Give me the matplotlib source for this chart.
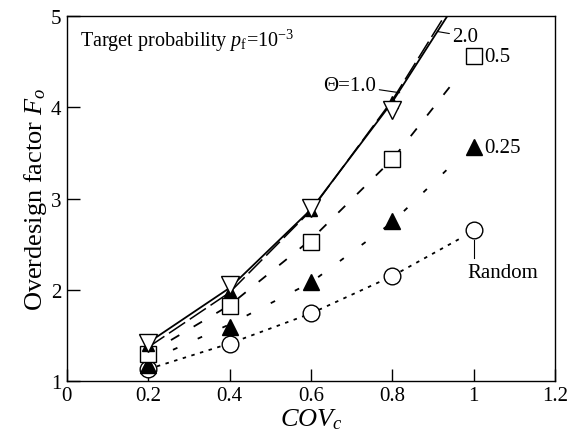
import matplotlib
matplotlib.use("Agg")
import matplotlib.pyplot as plt

# Fuente tipo Times para todo el grafico
plt.rcParams['font.family'] = ['Liberation Serif', 'DejaVu Serif']
plt.rcParams['mathtext.fontset'] = 'custom'
plt.rcParams['mathtext.rm'] = 'Liberation Serif'
plt.rcParams['mathtext.it'] = 'Liberation Serif:italic'
plt.rcParams['lines.scale_dashes'] = False

# Datos
cov = [0.2, 0.4, 0.6, 0.8, 1.0]
fo_theta1 = [1.42, 2.05, 2.90, 3.97]
fo_theta2 = [1.39, 1.99, 2.87, 4.06]
fo_theta05 = [1.30, 1.82, 2.52, 3.43, 4.56]
fo_theta025 = [1.17, 1.59, 2.09, 2.75, 3.57]
fo_random = [1.13, 1.40, 1.74, 2.15, 2.65]

# Curvas de ajuste (puntos leidos sobre cada curva)
fit_x_theta1 = [0.2, 0.4, 0.6, 0.8, 0.935]
fit_y_theta1 = [1.42, 2.02, 2.88, 4.06, 5.0]
fit_x_theta2 = [0.2, 0.4, 0.6, 0.8, 0.928]
fit_y_theta2 = [1.37, 1.97, 2.87, 4.08, 5.0]
fit_x_theta05 = [0.2, 0.4, 0.6, 0.8, 0.96]
fit_y_theta05 = [1.30, 1.83, 2.55, 3.43, 4.33]
fit_x_theta025 = [0.2, 0.4, 0.6, 0.8, 0.935]
fit_y_theta025 = [1.22, 1.62, 2.08, 2.74, 3.32]
fit_x_random = [0.2, 0.4, 0.6, 0.8, 0.97]
fit_y_random = [1.13, 1.41, 1.74, 2.15, 2.57]

x_ticks = [0, 0.2, 0.4, 0.6, 0.8, 1.0, 1.2]
x_tick_labels = ['0', '0.2', '0.4', '0.6', '0.8', '1', '1.2']
y_ticks = [1, 2, 3, 4, 5]

fig = plt.figure(figsize=(5.67, 4.39), dpi=100)
ax = fig.add_axes([0.118, 0.130, 0.861, 0.831])

# Curvas
ax.plot(fit_x_theta1, fit_y_theta1, color='black', lw=1.3, zorder=2)
ax.plot(fit_x_theta2, fit_y_theta2, color='black', lw=1.1,
        linestyle=(0, (14, 4)), zorder=2)
ax.plot(fit_x_theta05, fit_y_theta05, color='black', lw=1.3,
        linestyle=(0, (7, 12)), zorder=2)
ax.plot(fit_x_theta025, fit_y_theta025, color='black', lw=1.3,
        linestyle=(0, (3.5, 16)), zorder=2)
ax.plot(fit_x_random, fit_y_random, color='black', lw=1.3,
        linestyle=(0, (2.5, 4)), zorder=2)

# Marcadores
ax.plot(cov, fo_random, 'o', ms=12, mfc='white', mec='black', mew=1.0,
        linestyle='none', zorder=3)
ax.plot(cov, fo_theta025, '^', ms=12, mfc='black', mec='black',
        linestyle='none', zorder=4)
ax.plot(cov, fo_theta05, 's', ms=12, mfc='white', mec='black', mew=1.0,
        linestyle='none', zorder=4)
ax.plot(cov[:4], fo_theta2, '^', ms=9, mfc='black', mec='black',
        linestyle='none', zorder=5)
ax.plot(cov[:4], fo_theta1, 'v', ms=13, mfc='white', mec='black', mew=1.0,
        linestyle='none', zorder=6)

# Etiquetas dentro del grafico
ax.text(0.032, 4.74, r'Target probability $p_{\mathrm{f}}$=10$^{\mathrm{-3}}$',
        fontsize=14.5, ha='left', va='center')
ax.annotate('\u0398=1.0', xy=(0.818, 4.16), xytext=(0.696, 4.24),
            fontsize=15, ha='center', va='center',
            arrowprops=dict(arrowstyle='-', lw=0.8, color='black',
                            shrinkA=0, shrinkB=0))
ax.annotate('2.0', xy=(0.912, 4.83), xytext=(0.947, 4.78),
            fontsize=15, ha='left', va='center',
            arrowprops=dict(arrowstyle='-', lw=0.8, color='black',
                            shrinkA=0, shrinkB=0))
ax.text(1.025, 4.56, '0.5', fontsize=15, ha='left', va='center')
ax.text(1.025, 3.56, '0.25', fontsize=15, ha='left', va='center')
ax.plot([1.0, 1.0], [2.55, 2.35], color='black', lw=0.8)
ax.text(0.985, 2.19, 'Random', fontsize=15, ha='left', va='center')

# Ejes
ax.set_xlim(0, 1.2)
ax.set_ylim(1, 5)
ax.set_xticks(x_ticks)
ax.set_xticklabels(x_tick_labels)
ax.set_yticks(y_ticks)
ax.tick_params(direction='in', length=9, width=1.0, labelsize=15, pad=4)
for spine in ax.spines.values():
    spine.set_linewidth(1.0)

ax.set_xlabel(r'$COV_c$', fontsize=19, labelpad=1)
ax.set_ylabel(r'Overdesign factor $F_o$', fontsize=19, labelpad=1)

fig.savefig('out.png', dpi=100)
